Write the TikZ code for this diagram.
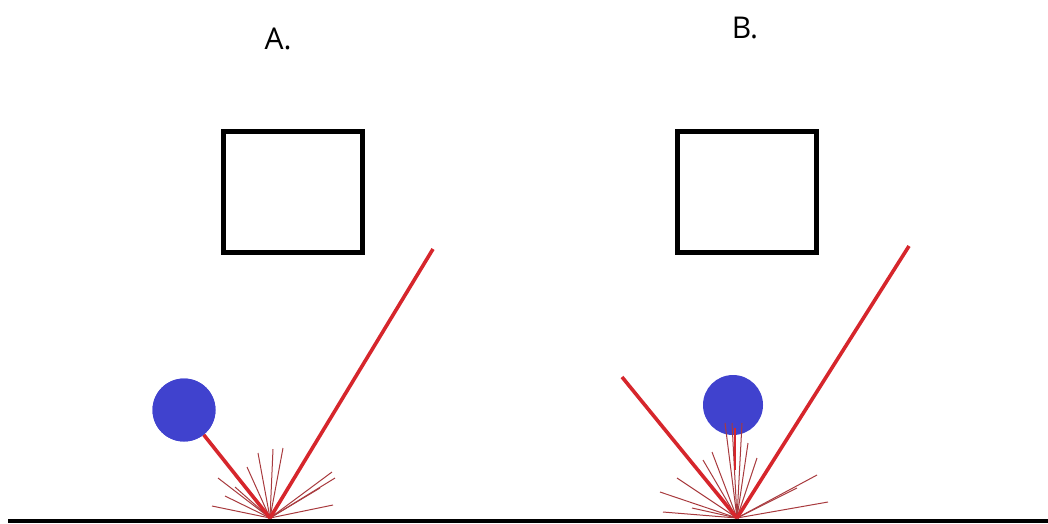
\documentclass[tikz,border=0pt]{standalone}
\usepackage{fontspec}
\setmainfont{Open Sans}
\definecolor{ray}{RGB}{214,38,44}
\definecolor{spray}{RGB}{168,58,62}
\definecolor{ball}{RGB}{64,66,206}
\tikzset{
  frame/.style={draw=black,line width=5pt,minimum width=139pt,minimum height=121pt,inner sep=0pt},
  sphere/.style={circle,fill=ball,inner sep=0pt},
  beam/.style={draw=ray,line width=3.6pt},
  splash/.style={draw=spray,line width=1pt},
  lbl/.style={font=\fontsize{30}{30}\selectfont},
}
\begin{document}
\begin{tikzpicture}[x=1pt,y=-1pt]
\useasboundingbox (0,0) rectangle (1048,523);
% ground
\coordinate (g0) at (8,521);
\coordinate (g1) at (1048,521);
\draw[line width=4pt] (g0) -- (g1);

% ---- panel A ----
\node[lbl] (la) at (278,39) {A.};
\node[frame] (boxa) at (292.5,191.5) {};
\node[sphere,minimum size=63pt] (balla) at (184,410) {};
\coordinate (ha) at (270,518);
\coordinate (ea) at (433,249);
\foreach \dx/\dy in {-58/-12,-52/-40,-45/-22,-35/-31,-23/-51,-12/-65,3/-69,13/-70,62/-46,65/-40,63/-13,50/-30}
  \draw[splash] (ha) -- ++(\dx,\dy);
\draw[beam] (balla) -- (ha);
\draw[beam] (ha) -- (ea);
\node[sphere,minimum size=63pt] at (balla) {};

% ---- panel B ----
\node[lbl] (lb) at (745,28) {B.};
\node[frame] (boxb) at (746.5,191.5) {};
\node[sphere,minimum size=60pt] (ballb) at (733,405) {};
\coordinate (hb) at (737,518);
\coordinate (sb) at (622,377);
\coordinate (eb) at (909,246);
\foreach \dx/\dy in {-74/-6,-77/-26,-60/-40,-34/-58,-25/-66,-12/-95,-5/-95,5/-95,11/-75,20/-60,80/-43,91/-16,-45/-10,60/-30}
  \draw[splash] (hb) -- ++(\dx,\dy);
\coordinate (vb0) at (735,428);
\coordinate (vb1) at (735,470);
\draw[ray,line width=2.5pt] (vb0) -- (vb1);
\draw[beam] (sb) -- (hb);
\draw[beam] (hb) -- (eb);
\end{tikzpicture}
\end{document}
